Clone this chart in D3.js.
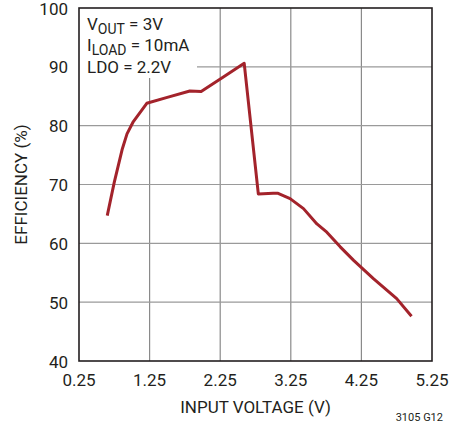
<!DOCTYPE html>
<html>
<head>
<meta charset="utf-8">
<script src="https://cdn.jsdelivr.net/npm/d3@7"></script>
<style>
  body { margin: 0; background: #fff; }
  svg text { font-family: "Roboto", "Liberation Sans", sans-serif; fill: #231f20; }
</style>
</head>
<body>
<div id="chart"></div>
<script>
// efficiency curve
var vin = [0.65, 0.75, 0.86, 0.93, 1.02, 1.21, 1.5, 1.82, 1.98, 2.3, 2.59, 2.79, 3.0, 3.07, 3.24, 3.43, 3.62, 3.76, 3.95, 4.14, 4.42, 4.75, 4.96];
var eff = [64.7, 70.4, 75.9, 78.6, 80.7, 83.8, 84.8, 85.9, 85.8, 88.3, 90.6, 68.4, 68.5, 68.5, 67.6, 65.9, 63.3, 61.9, 59.4, 57.1, 54.0, 50.6, 47.6];

var xTicks = [0.25, 1.25, 2.25, 3.25, 4.25, 5.25];
var yTicks = [40, 50, 60, 70, 80, 90, 100];
var xTickLabels = ["0.25", "1.25", "2.25", "3.25", "4.25", "5.25"];

var width = 466, height = 425;
var plotLeft = 79, plotRight = 432, plotTop = 8, plotBottom = 361;

var svg = d3.select("#chart").append("svg")
    .attr("width", width)
    .attr("height", height);

var xScale = d3.scaleLinear().domain([0.25, 5.25]).range([plotLeft, plotRight]);
var yScale = d3.scaleLinear().domain([40, 100]).range([plotBottom, plotTop]);

// grid
svg.append("g").selectAll("line").data(xTicks.slice(1, -1))
    .enter().append("line")
    .attr("x1", d => xScale(d)).attr("x2", d => xScale(d))
    .attr("y1", plotTop).attr("y2", plotBottom)
    .attr("stroke", "#8a8a8a").attr("stroke-width", 1.2);

svg.append("g").selectAll("line").data(yTicks.slice(1, -1))
    .enter().append("line")
    .attr("x1", plotLeft).attr("x2", plotRight)
    .attr("y1", d => yScale(d)).attr("y2", d => yScale(d))
    .attr("stroke", "#9a9a9a").attr("stroke-width", 1.2);

// white box behind the note text
svg.append("rect")
    .attr("x", plotLeft).attr("y", plotTop)
    .attr("width", 118).attr("height", 70)
    .attr("fill", "#fff");

// frame
svg.append("rect")
    .attr("x", plotLeft).attr("y", plotTop)
    .attr("width", plotRight - plotLeft).attr("height", plotBottom - plotTop)
    .attr("fill", "none").attr("stroke", "#231f20").attr("stroke-width", 1.6);

// efficiency curve
var pts = vin.map((v, i) => ({ v: v, e: eff[i] }));
var line = d3.line()
    .x(d => xScale(d.v))
    .y(d => yScale(d.e));

svg.append("path")
    .attr("d", line(pts))
    .attr("fill", "none")
    .attr("stroke", "#a3232b")
    .attr("stroke-width", 3)
    .attr("stroke-linejoin", "round");

// axis labels
svg.append("g").selectAll("text").data(xTicks)
    .enter().append("text")
    .attr("x", d => xScale(d))
    .attr("y", 386)
    .attr("text-anchor", "middle")
    .attr("font-size", 17)
    .text((d, i) => xTickLabels[i]);

svg.append("g").selectAll("text").data(yTicks)
    .enter().append("text")
    .attr("x", 68)
    .attr("y", d => yScale(d) + 6.5)
    .attr("text-anchor", "end")
    .attr("font-size", 17)
    .text(d => d);

svg.append("text")
    .attr("x", (plotLeft + plotRight) / 2)
    .attr("y", 413)
    .attr("text-anchor", "middle")
    .attr("font-size", 17)
    .text("INPUT VOLTAGE (V)");

svg.append("text")
    .attr("transform", "translate(27," + ((plotTop + plotBottom) / 2) + ") rotate(-90)")
    .attr("text-anchor", "middle")
    .attr("font-size", 17)
    .text("EFFICIENCY (%)");

svg.append("text")
    .attr("x", 443)
    .attr("y", 421)
    .attr("text-anchor", "end")
    .attr("font-size", 11)
    .text("3105 G12");

// notes
var note1 = svg.append("text").attr("x", 87).attr("y", 30).attr("font-size", 17);
note1.append("tspan").text("V");
note1.append("tspan").attr("dy", 4).attr("font-size", 14).text("OUT");
note1.append("tspan").attr("dy", -4).text(" = 3V");

var note2 = svg.append("text").attr("x", 87).attr("y", 51).attr("font-size", 17);
note2.append("tspan").text("I");
note2.append("tspan").attr("dy", 4).attr("font-size", 14).text("LOAD");
note2.append("tspan").attr("dy", -4).text(" = 10mA");

svg.append("text").attr("x", 87).attr("y", 73).attr("font-size", 17).text("LDO = 2.2V");
</script>
</body>
</html>
